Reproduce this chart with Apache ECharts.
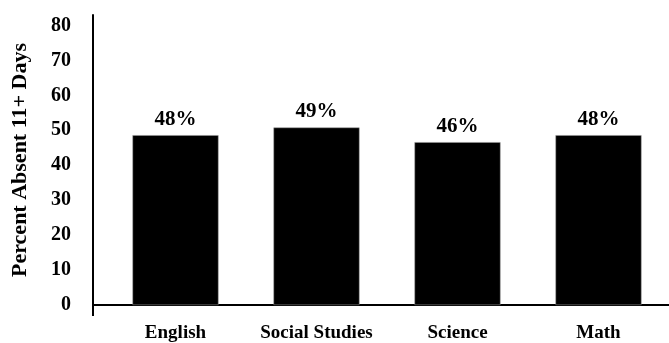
<!DOCTYPE html>
<html>
<head>
<meta charset="utf-8">
<script src="https://cdn.jsdelivr.net/npm/echarts@6/dist/echarts.min.js"></script>
<style>
html,body{margin:0;padding:0;background:#fff;}
#main{width:669px;height:343px;}
</style>
</head>
<body>
<div id="main"></div>
<script>
var categories = ['English', 'Social Studies', 'Science', 'Math'];
var values = [48.6, 50.8, 46.6, 48.6];
var labels = ['48%', '49%', '46%', '48%'];
var yTicks = [0, 10, 20, 30, 40, 50, 60, 70, 80];

var myChart = echarts.init(document.getElementById('main'));
var font = 'Liberation Serif';
var gLeft = 105, gTop = 15, gBottom = 37.5, axisX = 93;

var option = {
    animation: false,
    grid: { left: gLeft, top: gTop, right: -3, bottom: gBottom },
    xAxis: {
        type: 'category',
        data: categories,
        axisLine: { lineStyle: { color: '#000', width: 2 } },
        axisTick: { show: false },
        axisLabel: { interval: 0, color: '#000', fontFamily: font, fontWeight: 'bold', fontSize: 19, margin: 19 }
    },
    yAxis: {
        type: 'value',
        min: 0,
        max: 83,
        interval: 10,
        offset: gLeft - axisX,
        name: 'Percent Absent 11+ Days',
        nameLocation: 'middle',
        nameGap: 62,
        nameTextStyle: { color: '#000', fontFamily: font, fontWeight: 'bold', fontSize: 22 },
        splitLine: { show: false },
        axisLine: { show: true, lineStyle: { color: '#000', width: 2 } },
        axisTick: { show: false },
        axisLabel: {
            color: '#000', fontFamily: font, fontWeight: 'bold', fontSize: 20, margin: 22,
            showMaxLabel: false,
            formatter: function (v) { return yTicks.indexOf(v) >= 0 ? v : ''; }
        }
    },
    series: [{
        type: 'bar',
        data: values,
        barWidth: '61%',
        itemStyle: { color: '#000', borderColor: '#999', borderWidth: 0.5 },
        label: {
            show: true,
            position: 'top',
            distance: 5,
            color: '#000',
            fontFamily: font,
            fontWeight: 'bold',
            fontSize: 21,
            formatter: function (p) { return labels[p.dataIndex]; }
        }
    }]
};
myChart.setOption(option);

// axis line stubs (x axis runs left to the y axis, y axis runs below x axis)
var y0 = myChart.convertToPixel({ yAxisIndex: 0 }, 0);
myChart.setOption({
    graphic: [
        { type: 'line', shape: { x1: axisX, y1: y0, x2: gLeft, y2: y0 }, style: { stroke: '#000', lineWidth: 2 } },
        { type: 'line', shape: { x1: axisX, y1: y0, x2: axisX, y2: y0 + 11 }, style: { stroke: '#000', lineWidth: 2 } }
    ]
});
</script>
</body>
</html>
